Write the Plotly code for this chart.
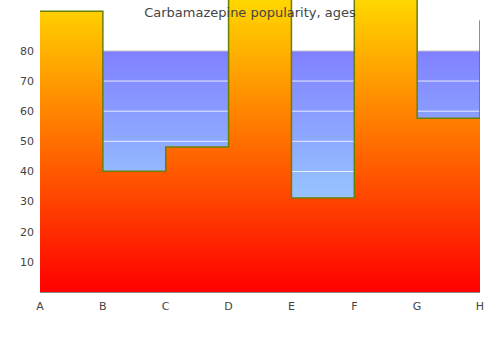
import plotly.graph_objects as go

categories = ["A", "B", "C", "D", "E", "F", "G", "H"]
values = [93.2, 40.1, 48.1, 100, 31.2, 100, 57.7, 90.2]
band_top = 80
y_ticks = [10, 20, 30, 40, 50, 60, 70, 80]
title_text = "Carbamazepine popularity, ages"

xs = list(range(len(categories)))
ymax = 96.9

fig = go.Figure()

# blue band
fig.add_trace(go.Scatter(
    x=[xs[0], xs[-1]], y=[band_top, band_top], mode="lines",
    line=dict(color="#cccccc", width=1), fill="tozeroy",
    fillgradient=dict(type="vertical", start=0, stop=band_top,
                      colorscale=[[0, "#a5f0ff"], [1, "#8080ff"]]),
    hoverinfo="skip", showlegend=False))

# grid lines over band
gx, gy = [], []
for t in y_ticks[:-1]:
    gx += [xs[0], xs[-1], None]
    gy += [t, t, None]
fig.add_trace(go.Scatter(
    x=gx, y=gy, mode="lines", line=dict(color="rgba(255,255,255,0.8)", width=1),
    hoverinfo="skip", showlegend=False))

# step area
fig.add_trace(go.Scatter(
    x=xs, y=values, mode="lines", line=dict(color="#6e7f00", width=1.5, shape="hv"),
    fill="tozeroy",
    fillgradient=dict(type="vertical", start=0, stop=ymax,
                      colorscale=[[0, "#ff0000"], [1, "#ffd700"]]),
    hoverinfo="skip", showlegend=False))

fig.update_layout(
    width=500, height=350,
    margin=dict(l=40, r=20, t=0, b=58),
    plot_bgcolor="white", paper_bgcolor="white",
    font=dict(family="DejaVu Sans", size=11, color="#444"),
    showlegend=False,
    title=dict(text=title_text, x=0.5, xref="container", xanchor="center",
               y=1 - 12 / 350, yref="container", yanchor="middle",
               font=dict(family="DejaVu Sans", size=13, color="#444")),
)
fig.update_xaxes(range=[xs[0], xs[-1]], tickvals=xs, ticktext=categories,
                 showgrid=False, zeroline=False, showline=True, linecolor="#888",
                 linewidth=1, ticks="", ticklabelstandoff=4,
                 tickfont=dict(size=11, color="#444"))
fig.update_yaxes(range=[0, ymax], tickvals=y_ticks, showgrid=False, zeroline=False,
                 showline=False, ticks="", ticklabelstandoff=5,
                 tickfont=dict(size=11, color="#444"))

fig.write_html("out.html")
